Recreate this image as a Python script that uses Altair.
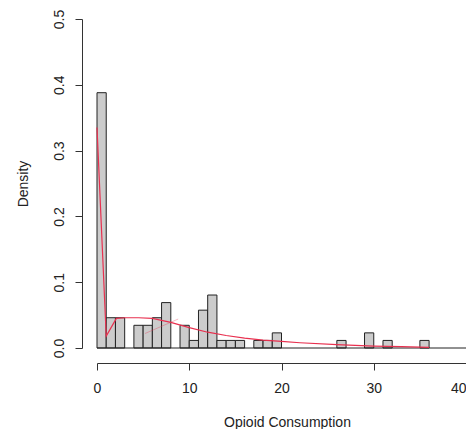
import altair as alt
import pandas as pd

# Histogram bins (left edges, width 1) and densities
bin_start = [0, 1, 2, 4, 5, 6, 7, 9, 10, 11, 12, 13, 14, 15, 17, 18, 19, 26, 29, 31, 35]
density = [0.388, 0.046, 0.046, 0.0345, 0.0345, 0.046, 0.069, 0.0345, 0.0115, 0.0575,
           0.0805, 0.0115, 0.0115, 0.0115, 0.0115, 0.0115, 0.023, 0.0115, 0.023, 0.0115, 0.0115]

# Red fitted curve
curve_x = [0, 1, 2.1, 3, 4.5, 6, 8, 10, 12, 14, 16, 18, 20, 22, 26, 30, 33, 36]
curve_y = [0.335, 0.018, 0.045, 0.046, 0.046, 0.045, 0.039, 0.031, 0.024, 0.019, 0.015,
           0.012, 0.010, 0.008, 0.005, 0.003, 0.002, 0.001]

# faint secondary segment
faint_x = [5.2, 8.8]
faint_y = [0.022, 0.044]

x_ticks = [0, 10, 20, 30, 40]
y_ticks = [0.0, 0.1, 0.2, 0.3, 0.4, 0.5]

bars_df = pd.DataFrame({
    "x": bin_start,
    "x2": [b + 1 for b in bin_start],
    "d": density,
    "d0": [0.0] * len(bin_start),
})
curve_df = pd.DataFrame({"x": curve_x, "y": curve_y})
faint_df = pd.DataFrame({"x": faint_x, "y": faint_y})

FONT = "Liberation Sans"
xscale = alt.Scale(domain=[0, 40], nice=False, zero=False)
yscale = alt.Scale(domain=[0, 0.5], nice=False, zero=False)

xaxis = alt.Axis(
    values=x_ticks, format="d", title="Opioid Consumption", grid=False,
    offset=15, domainColor="#333", tickColor="#333", tickSize=7,
    labelFont=FONT, labelFontSize=14, labelColor="#222", labelPadding=11,
    labelFlush=False, labelOverlap=False,
    labelAlign=alt.condition("datum.value == 40", alt.value("right"), alt.value("center")),
    titleFont=FONT, titleFontSize=14, titleColor="#222", titleFontWeight="normal",
    titlePadding=20, titleX=190,
)
yaxis = alt.Axis(
    values=y_ticks, format=".1f", title="Density", grid=False,
    offset=15, domainColor="#333", tickColor="#333", tickSize=7,
    labelFont=FONT, labelFontSize=14, labelColor="#222", labelPadding=9,
    labelAngle=270, labelAlign="center", labelBaseline="bottom",
    labelFlush=False, labelOverlap=False,
    titleFont=FONT, titleFontSize=14, titleColor="#222", titleFontWeight="normal",
    titlePadding=22,
)

bars = alt.Chart(bars_df).mark_rect(fill="#cccccc", stroke="#222222", strokeWidth=1).encode(
    x=alt.X("x:Q", scale=xscale, axis=xaxis),
    x2="x2:Q",
    y=alt.Y("d:Q", scale=yscale, axis=yaxis),
    y2="d0:Q",
)

base_df = pd.DataFrame({"x": [0.0], "x2": [40.0], "y": [0.0]})
baseline = alt.Chart(base_df).mark_rule(color="#222222", strokeWidth=1).encode(
    x=alt.X("x:Q", scale=xscale), x2="x2:Q", y=alt.Y("y:Q", scale=yscale)
)

curve = alt.Chart(curve_df).mark_line(color="#e8304f", strokeWidth=1.2).encode(
    x=alt.X("x:Q", scale=xscale), y=alt.Y("y:Q", scale=yscale)
)
faint = alt.Chart(faint_df).mark_line(color="#e8304f", strokeWidth=1, opacity=0.35).encode(
    x=alt.X("x:Q", scale=xscale), y=alt.Y("y:Q", scale=yscale)
)

chart = alt.layer(bars, baseline, faint, curve).properties(
    width=369, height=329,
    autosize=alt.AutoSizeParams(type="none"),
    padding={"left": 89, "top": 11, "right": 0, "bottom": 81},
    background="white",
).configure_view(stroke=None, strokeWidth=0)

chart.save("out.html", embed_options={"renderer": "svg", "actions": False})
